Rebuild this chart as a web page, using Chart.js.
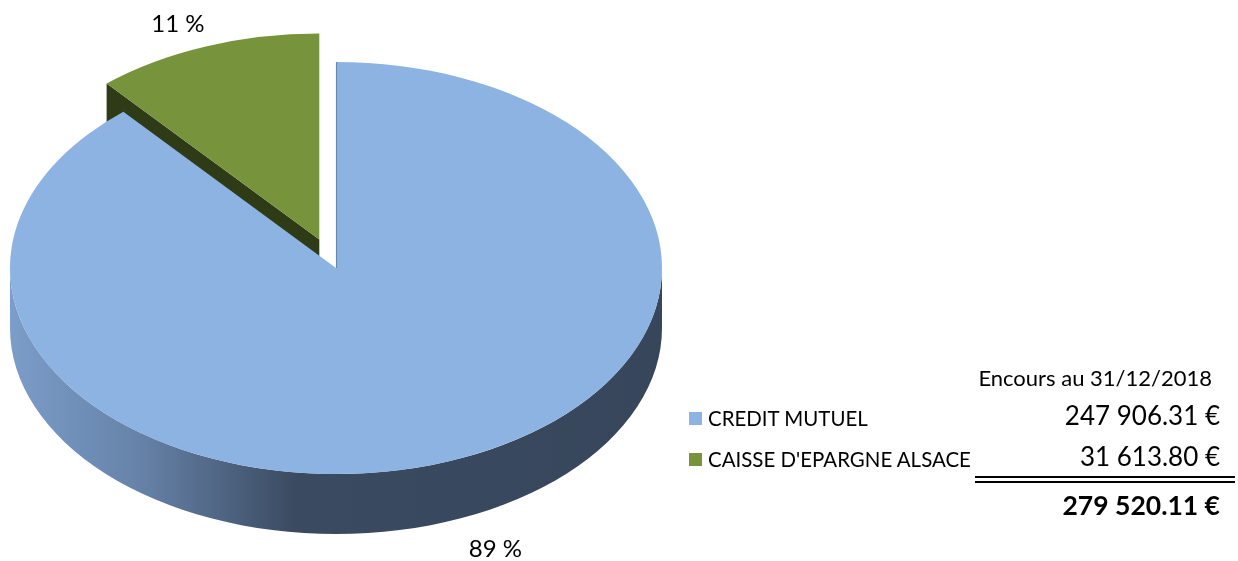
<!DOCTYPE html>
<html><head><meta charset="utf-8">
<script src="https://cdn.jsdelivr.net/npm/chart.js@4.4.1/dist/chart.umd.min.js"></script>
<style>
html,body{margin:0;padding:0;background:#fff;}
#wrap{position:relative;width:1238px;height:561px;overflow:hidden;font-family:Lato,"Open Sans",sans-serif;color:#000;}
#c{position:absolute;left:0;top:0;}
.t{position:absolute;white-space:nowrap;line-height:1;}
.sq{position:absolute;width:13px;height:13px;}
.ln{position:absolute;height:2px;background:#000;}
</style></head><body>
<div id="wrap"><canvas id="c" width="1238" height="561"></canvas></div>
<script>
// ---- data ----
const categories = ['CREDIT MUTUEL', "CAISSE D'EPARGNE ALSACE"];
const values = [247906.31, 31613.80];
const topColors = ['#8db3e2', '#77933c'];
const cutColors = ['#3a4a60', '#2f3a17'];
const explode = [0, 48];
const headerLabel = 'Encours au 31/12/2018';

const total = values.reduce((a, b) => a + b, 0);
const K = 0.632;      // vertical squash of the pie (tilt)
const DEPTH = 60;     // thickness of the 3D pie

function fmtEuro(v) {
  const [ip, dp] = v.toFixed(2).split('.');
  return ip.replace(/\B(?=(\d{3})+(?!\d))/g, ' ') + '.' + dp + ' \u20ac';
}

function chartCenter(chart) {
  const a = chart.chartArea;
  return { x: (a.left + a.right) / 2, y: (a.top + a.bottom) / 2 };
}

function arcGeom(chart, arc) {
  const c = chartCenter(chart);
  return {
    cx: c.x, cy: c.y,
    ox: arc.x,
    oy: c.y + K * (arc.y - c.y),
    r: arc.outerRadius, s: arc.startAngle, e: arc.endAngle,
    mid: (arc.startAngle + arc.endAngle) / 2
  };
}

const pie3d = {
  id: 'pie3d',
  afterDatasetsUpdate(chart) {
    // explode slices by moving their centre along the mid angle
    const c = chartCenter(chart);
    chart.getDatasetMeta(0).data.forEach((arc, i) => {
      const mid = (arc.startAngle + arc.endAngle) / 2;
      arc.x = c.x + Math.cos(mid) * explode[i];
      arc.y = c.y + Math.sin(mid) * explode[i];
    });
  },
  beforeDatasetsDraw(chart) {
    const ctx = chart.ctx;
    const meta = chart.getDatasetMeta(0);
    const geoms = meta.data.map(a => arcGeom(chart, a));
    // outer curved side (front half only)
    geoms.forEach((g, i) => {
      for (let k = -1; k <= 1; k++) {
        const lo = Math.max(g.s, 2 * Math.PI * k);
        const hi = Math.min(g.e, 2 * Math.PI * k + Math.PI);
        if (lo >= hi) continue;
        const grad = ctx.createLinearGradient(g.ox - g.r, 0, g.ox + g.r, 0);
        if (i === 0) {
          grad.addColorStop(0, '#7b9dc9');
          grad.addColorStop(0.2, '#6682a8');
          grad.addColorStop(0.44, '#3a4a60');
          grad.addColorStop(1, '#37465b');
        } else {
          grad.addColorStop(0, '#4a5e26');
          grad.addColorStop(1, '#2f3a17');
        }
        ctx.beginPath();
        ctx.ellipse(g.ox, g.oy, g.r, g.r * K, 0, lo, hi, false);
        ctx.ellipse(g.ox, g.oy + DEPTH, g.r, g.r * K, 0, hi, lo, true);
        ctx.closePath();
        ctx.fillStyle = grad;
        ctx.fill();
      }
    });
    // radial cut faces facing the viewer
    geoms.forEach((g, i) => {
      [[g.s, -1], [g.e, 1]].forEach(([a, sgn]) => {
        const visible = sgn < 0 ? Math.cos(a) < -1e-6 : Math.cos(a) > 1e-6;
        if (!visible) return;
        const px = g.ox + g.r * Math.cos(a), py = g.oy + K * g.r * Math.sin(a);
        ctx.beginPath();
        ctx.moveTo(g.ox, g.oy);
        ctx.lineTo(px, py);
        ctx.lineTo(px, py + DEPTH);
        ctx.lineTo(g.ox, g.oy + DEPTH);
        ctx.closePath();
        ctx.fillStyle = cutColors[i];
        ctx.fill();
      });
    });
    // tilt the top faces
    const c = geoms[0];
    ctx.save();
    ctx.translate(c.cx, c.cy);
    ctx.scale(1, K);
    ctx.translate(-c.cx, -c.cy);
  },
  afterDatasetsDraw(chart) {
    const ctx = chart.ctx;
    ctx.restore();
    const meta = chart.getDatasetMeta(0);
    const geoms = meta.data.map(a => arcGeom(chart, a));
    // edge-on cut face of the first slice
    const g0 = geoms[0];
    ctx.beginPath();
    ctx.moveTo(g0.ox + g0.r * Math.cos(g0.s) + 0.5, g0.oy + K * g0.r * Math.sin(g0.s));
    ctx.lineTo(g0.ox + 0.5, g0.oy);
    ctx.strokeStyle = 'rgba(80,100,130,0.55)';
    ctx.lineWidth = 1.2;
    ctx.stroke();
    // percentage labels
    ctx.font = '24px Lato, "Open Sans", sans-serif';
    ctx.fillStyle = '#000';
    ctx.textBaseline = 'middle';
    geoms.forEach((g, i) => {
      const c = Math.cos(g.mid), s = Math.sin(g.mid);
      const ex = g.ox + g.r * c;
      const ey = g.oy + K * g.r * s + (s > 0 ? DEPTH : 0);
      const lx = ex + 30 * c + 9;
      const ly = ey + 25 * Math.sign(s) + 3;
      ctx.textAlign = c >= 0 ? 'left' : 'right';
      ctx.fillText(Math.round(values[i] / total * 100) + ' %', lx, ly);
    });
  }
};

new Chart(document.getElementById('c'), {
  type: 'pie',
  data: {
    labels: categories,
    datasets: [{
      data: values,
      backgroundColor: topColors,
      borderWidth: 0,
      radius: 326,
      clip: false
    }]
  },
  options: {
    responsive: false,
    animation: false,
    layout: { padding: { left: 0, top: 0, right: 566, bottom: 25 } },
    plugins: { legend: { display: false }, tooltip: { enabled: false } },
    events: []
  },
  plugins: [pie3d]
});

// ---- legend / value table (HTML text) ----
const wrap = document.getElementById('wrap');
function addText(txt, opts) {
  const d = document.createElement('div');
  d.className = 't';
  d.textContent = txt;
  d.style.fontSize = opts.size + 'px';
  if (opts.bold) d.style.fontWeight = '700';
  d.style.top = (opts.cy - opts.size * 0.53) + 'px';
  if (opts.right !== undefined) {
    d.style.right = (1238 - opts.right) + 'px';
    d.style.transformOrigin = 'right center';
  } else {
    d.style.left = opts.left + 'px';
    d.style.transformOrigin = 'left center';
  }
  if (opts.sx) d.style.transform = 'scaleX(' + opts.sx + ')';
  wrap.appendChild(d);
}
addText(headerLabel, { size: 22, cy: 379, right: 1212 });
const rowY = [419, 460];
categories.forEach((cat, i) => {
  const sq = document.createElement('div');
  sq.className = 'sq';
  sq.style.background = topColors[i];
  sq.style.left = '689px';
  sq.style.top = (rowY[i] - 7) + 'px';
  wrap.appendChild(sq);
  addText(cat, { size: 22, cy: rowY[i], left: 708, sx: 0.93 });
  addText(fmtEuro(values[i]), { size: 26, cy: rowY[i] - 3, right: 1220 });
});
[476, 481].forEach(y => {
  const l = document.createElement('div');
  l.className = 'ln';
  l.style.left = '975px';
  l.style.width = '260px';
  l.style.top = y + 'px';
  wrap.appendChild(l);
});
addText(fmtEuro(total), { size: 26.5, cy: 506, right: 1220, bold: true });
</script>
</body></html>
